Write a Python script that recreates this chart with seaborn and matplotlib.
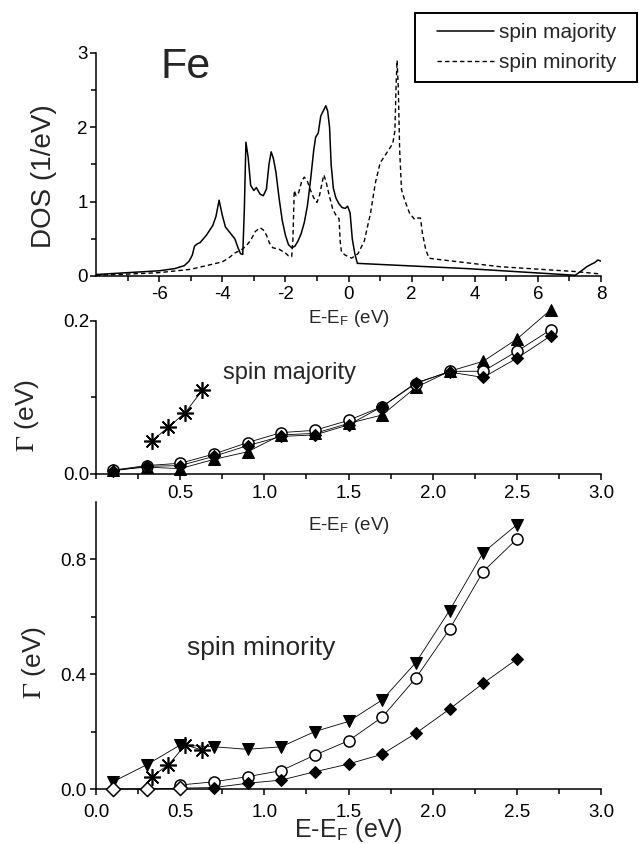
import matplotlib
matplotlib.use("Agg")
import matplotlib.pyplot as plt
import seaborn as sns
from matplotlib.ticker import MultipleLocator, FixedLocator
from matplotlib.lines import Line2D
from matplotlib.legend_handler import HandlerLine2D

# ---------------- density of states of Fe ----------------
maj_energy = [-8.0, -7.0, -6.0, -5.5, -5.2, -5.05, -4.95, -4.88, -4.8, -4.7, -4.5, -4.3,
              -4.2, -4.1, -4.0, -3.9, -3.75, -3.6, -3.5, -3.42, -3.35, -3.3, -3.25, -3.18,
              -3.1, -3.0, -2.92, -2.8, -2.7, -2.6, -2.52, -2.45, -2.38, -2.3, -2.2, -2.1,
              -2.0, -1.9, -1.8, -1.7, -1.6, -1.5, -1.4, -1.3, -1.2, -1.1, -1.04, -0.96,
              -0.88, -0.8, -0.72, -0.66, -0.6, -0.55, -0.48, -0.4, -0.3, -0.2, -0.1, -0.03,
              0.05, 0.12, 0.2, 0.28, 3.74, 7.18, 7.35, 7.55, 7.7, 7.8, 7.9, 8.0]
maj_dos = [0.02, 0.045, 0.07, 0.10, 0.14, 0.20, 0.28, 0.40, 0.43, 0.45, 0.55, 0.68,
           0.80, 1.02, 0.82, 0.66, 0.58, 0.50, 0.38, 0.30, 0.29, 0.90, 1.80, 1.60,
           1.22, 1.15, 1.19, 1.10, 1.08, 1.17, 1.50, 1.67, 1.58, 1.40, 1.05, 0.75,
           0.55, 0.42, 0.38, 0.40, 0.47, 0.57, 0.72, 0.95, 1.30, 1.70, 1.87, 1.92,
           2.15, 2.22, 2.29, 2.22, 2.00, 1.50, 1.18, 1.05, 0.97, 0.92, 0.91, 0.94,
           0.85, 0.50, 0.30, 0.17, 0.10, 0.01, 0.06, 0.125, 0.16, 0.18, 0.215, 0.20]

min_energy = [-8.0, -7.0, -6.0, -5.0, -4.5, -4.0, -3.8, -3.6, -3.4, -3.25, -3.1, -2.95,
              -2.8, -2.7, -2.6, -2.5, -2.4, -2.2, -2.0, -1.9, -1.8, -1.76, -1.72, -1.66,
              -1.58, -1.48, -1.4, -1.3, -1.2, -1.1, -1.0, -0.92, -0.84, -0.78, -0.7, -0.62,
              -0.5, -0.4, -0.3, -0.26, -0.22, -0.1, 0.1, 0.3, 0.5, 0.7, 0.85, 1.0,
              1.2, 1.4, 1.47, 1.51, 1.54, 1.58, 1.62, 1.68, 1.78, 1.94, 2.1, 2.2,
              2.28, 2.34, 2.45, 2.55, 2.7, 4.8, 7.18, 8.0]
min_dos = [0.01, 0.025, 0.045, 0.09, 0.14, 0.19, 0.24, 0.31, 0.35, 0.40, 0.48, 0.60,
           0.65, 0.62, 0.55, 0.44, 0.38, 0.36, 0.31, 0.27, 0.26, 0.50, 1.15, 1.08,
           1.12, 1.28, 1.33, 1.27, 1.15, 1.05, 0.99, 1.08, 1.25, 1.36, 1.25, 1.10,
           0.90, 0.82, 0.77, 0.45, 0.32, 0.28, 0.24, 0.30, 0.47, 0.85, 1.25, 1.52,
           1.65, 1.78, 1.95, 2.60, 2.90, 2.50, 1.70, 1.16, 1.02, 0.84, 0.76, 0.78,
           0.78, 0.58, 0.35, 0.24, 0.23, 0.125, 0.06, 0.027]

# ---------------- lifetime broadening, spin majority ----------------
e_maj = [0.1, 0.3, 0.5, 0.7, 0.9, 1.1, 1.3, 1.5, 1.7, 1.9, 2.1, 2.3, 2.5, 2.7]
gamma_maj_tri = [0.005, 0.009, 0.007, 0.019, 0.029, 0.051, 0.053, 0.066, 0.077, 0.113,
                 0.134, 0.147, 0.176, 0.214]
gamma_maj_circ = [0.005, 0.011, 0.014, 0.026, 0.041, 0.054, 0.057, 0.070, 0.088, 0.118,
                  0.134, 0.134, 0.160, 0.188]
gamma_maj_dia = [0.004, 0.010, 0.011, 0.023, 0.037, 0.049, 0.051, 0.064, 0.088, 0.119,
                 0.133, 0.126, 0.151, 0.180]
e_star = [0.33, 0.43, 0.53, 0.63]
gamma_maj_star = [0.043, 0.061, 0.080, 0.109]

# ---------------- lifetime broadening, spin minority ----------------
e_min = [0.1, 0.3, 0.5, 0.7, 0.9, 1.1, 1.3, 1.5, 1.7, 1.9, 2.1, 2.3, 2.5]
gamma_min_tri = [0.025, 0.084, 0.153, 0.147, 0.138, 0.147, 0.200, 0.235, 0.310, 0.440,
                 0.621, 0.823, 0.920]
e_min_circ = [0.5, 0.7, 0.9, 1.1, 1.3, 1.5, 1.7, 1.9, 2.1, 2.3, 2.5]
gamma_min_circ = [0.014, 0.025, 0.043, 0.064, 0.118, 0.168, 0.250, 0.386, 0.556, 0.757,
                  0.870]
gamma_min_dia = [0.0, 0.0, 0.003, 0.005, 0.020, 0.031, 0.060, 0.087, 0.121, 0.194,
                 0.278, 0.368, 0.452]
gamma_min_star = [0.043, 0.084, 0.153, 0.136]

x_tick_vals = [0.0, 0.5, 1.0, 1.5, 2.0, 2.5, 3.0]
x_tick_text = ["0.0", "0.5", "1.0", "1.5", "2.0", "2.5", "3.0"]

# ---------------- style ----------------
sns.set_style("ticks")
plt.rcParams["font.family"] = ["Liberation Sans", "DejaVu Sans"]
plt.rcParams["mathtext.fontset"] = "stix"
plt.rcParams["axes.unicode_minus"] = False
plt.rcParams["axes.linewidth"] = 1.1
plt.rcParams["axes.edgecolor"] = "black"
plt.rcParams["xtick.color"] = "black"
plt.rcParams["ytick.color"] = "black"

W, H = 639, 844
fig = plt.figure(figsize=(W / 100, H / 100), dpi=100)


def box(left, right, top, bottom):
    return [left / W, 1 - bottom / H, (right - left) / W, (bottom - top) / H]


ax1 = fig.add_axes(box(96, 601, 53, 276))
ax2 = fig.add_axes(box(96, 601, 320.7, 474))
ax3 = fig.add_axes(box(96, 601, 501.7, 789))

for ax in (ax1, ax2, ax3):
    sns.despine(ax=ax)
    ax.patch.set_alpha(0)
    ax.tick_params(which="major", direction="out", length=4, width=1.1, labelsize=13.5,
                   colors="black")
    ax.tick_params(which="minor", direction="out", length=3.5, width=1.1)

line_kw = dict(color="black", sort=False, estimator=None, legend=False)

# DOS panel
sns.lineplot(x=maj_energy, y=maj_dos, ax=ax1, linewidth=1.1, **line_kw)
sns.lineplot(x=min_energy, y=min_dos, ax=ax1, linewidth=1.0,
             linestyle=(0, (3.2, 2.2)), **line_kw)
ax1.set_xlim(-8, 8)
ax1.set_ylim(0, 3)
ax1.xaxis.set_major_locator(FixedLocator([-6, -4, -2, 0, 2, 4, 6, 8]))
ax1.xaxis.set_minor_locator(FixedLocator([-7, -5, -3, -1, 1, 3, 5, 7]))
ax1.yaxis.set_major_locator(MultipleLocator(1))
ax1.yaxis.set_minor_locator(MultipleLocator(0.5))
ax1.tick_params(axis="x", which="major", pad=3)
ax1.tick_params(axis="y", which="major", pad=2)
ax1.set_xlabel(r"E-E$_\mathregular{F}$ (eV)", fontsize=13.5)
ax1.xaxis.set_label_coords(0.5, -0.145)
ax1.set_ylabel("DOS (1/eV)", fontsize=20)
ax1.yaxis.set_label_coords(-0.077, 0.45)
ax1.text(-5.97, 2.66, "Fe", fontsize=31, ha="left", va="baseline")

handles = [Line2D([], [], color="black", linewidth=1.1),
           Line2D([], [], color="black", linewidth=1.0, linestyle=(0, (3.2, 2.2)))]
fs_leg = 15
leg = fig.legend(handles, ["spin majority", "spin minority"],
                 loc="upper left", mode="expand",
                 bbox_to_anchor=(415 / W, 1 - 82 / H, 222 / W, 69 / H),
                 bbox_transform=fig.transFigure, borderaxespad=0,
                 fontsize=fs_leg, frameon=True, fancybox=False, framealpha=1,
                 edgecolor="black", borderpad=0.5, labelspacing=0.5,
                 handlelength=3.3, handletextpad=0.25,
                 handler_map={Line2D: HandlerLine2D(xpad=0.57)})
leg.get_frame().set_linewidth(1.4)

# spin majority broadening
mk = dict(color="black", markeredgecolor="black", linewidth=0.6, clip_on=False,
          sort=False, estimator=None, legend=False)
sns.lineplot(x=e_maj, y=gamma_maj_tri, ax=ax2, marker="^", markersize=9, **mk)
sns.lineplot(x=e_maj, y=gamma_maj_circ, ax=ax2, marker="o", markersize=8,
             markerfacecolor="white", markeredgewidth=1.1, **mk)
sns.lineplot(x=e_maj, y=gamma_maj_dia, ax=ax2, marker="D", markersize=6.5, **mk)
sns.lineplot(x=e_star, y=gamma_maj_star, ax=ax2, marker=(8, 2, 0), markersize=12,
             markeredgewidth=1.2, **mk)
ax2.set_xlim(0, 3)
ax2.set_ylim(0, 0.2)
ax2.xaxis.set_major_locator(FixedLocator(x_tick_vals[1:]))
ax2.set_xticklabels(x_tick_text[1:])
ax2.xaxis.set_minor_locator(MultipleLocator(0.25))
ax2.yaxis.set_major_locator(FixedLocator([0.0, 0.2]))
ax2.set_yticklabels(["0.0", "0.2"])
ax2.yaxis.set_minor_locator(FixedLocator([0.1]))
ax2.tick_params(axis="x", which="major", pad=4)
ax2.tick_params(axis="y", which="major", pad=1)
ax2.set_xlabel(r"E-E$_\mathregular{F}$ (eV)", fontsize=13.5)
ax2.xaxis.set_label_coords(0.5, -0.27)
ax2.set_ylabel(r"$\Gamma$ (eV)", fontsize=19)
ax2.yaxis.set_label_coords(-0.109, 0.385)
ax2.text(0.756, 0.124, "spin majority", fontsize=17, ha="left", va="baseline")

# spin minority broadening
sns.lineplot(x=e_min, y=gamma_min_tri, ax=ax3, marker="v", markersize=9, **mk)
sns.lineplot(x=e_min_circ, y=gamma_min_circ, ax=ax3, marker="o", markersize=8,
             markerfacecolor="white", markeredgewidth=1.1, **mk)
sns.lineplot(x=e_min, y=gamma_min_dia, ax=ax3, marker="D", markersize=6.5, **mk)
# zero-valued points at the lowest energies are drawn as open diamonds
sns.scatterplot(x=e_min[:3], y=gamma_min_dia[:3], ax=ax3, marker="D", s=52,
                facecolor="white", edgecolor="black", linewidth=1.1, clip_on=False,
                zorder=5, legend=False)
sns.lineplot(x=e_star, y=gamma_min_star, ax=ax3, marker=(8, 2, 0), markersize=12,
             markeredgewidth=1.2, **mk)
ax3.set_xlim(0, 3)
ax3.set_ylim(0, 1.0)
ax3.xaxis.set_major_locator(FixedLocator(x_tick_vals))
ax3.set_xticklabels(x_tick_text)
ax3.xaxis.set_minor_locator(MultipleLocator(0.25))
ax3.yaxis.set_major_locator(FixedLocator([0.0, 0.4, 0.8]))
ax3.set_yticklabels(["0.0", "0.4", "0.8"])
ax3.yaxis.set_minor_locator(FixedLocator([0.2, 0.6]))
ax3.tick_params(axis="x", which="major", pad=7)
ax3.tick_params(axis="y", which="major", pad=3)
ax3.set_xlabel(r"E-E$_\mathregular{F}$ (eV)", fontsize=18)
ax3.xaxis.set_label_coords(0.5, -0.095)
ax3.set_ylabel(r"$\Gamma$ (eV)", fontsize=19)
ax3.yaxis.set_label_coords(-0.095, 0.44)
ax3.text(0.54, 0.467, "spin minority", fontsize=19, ha="left", va="baseline")

fig.savefig("out.png", dpi=100)
